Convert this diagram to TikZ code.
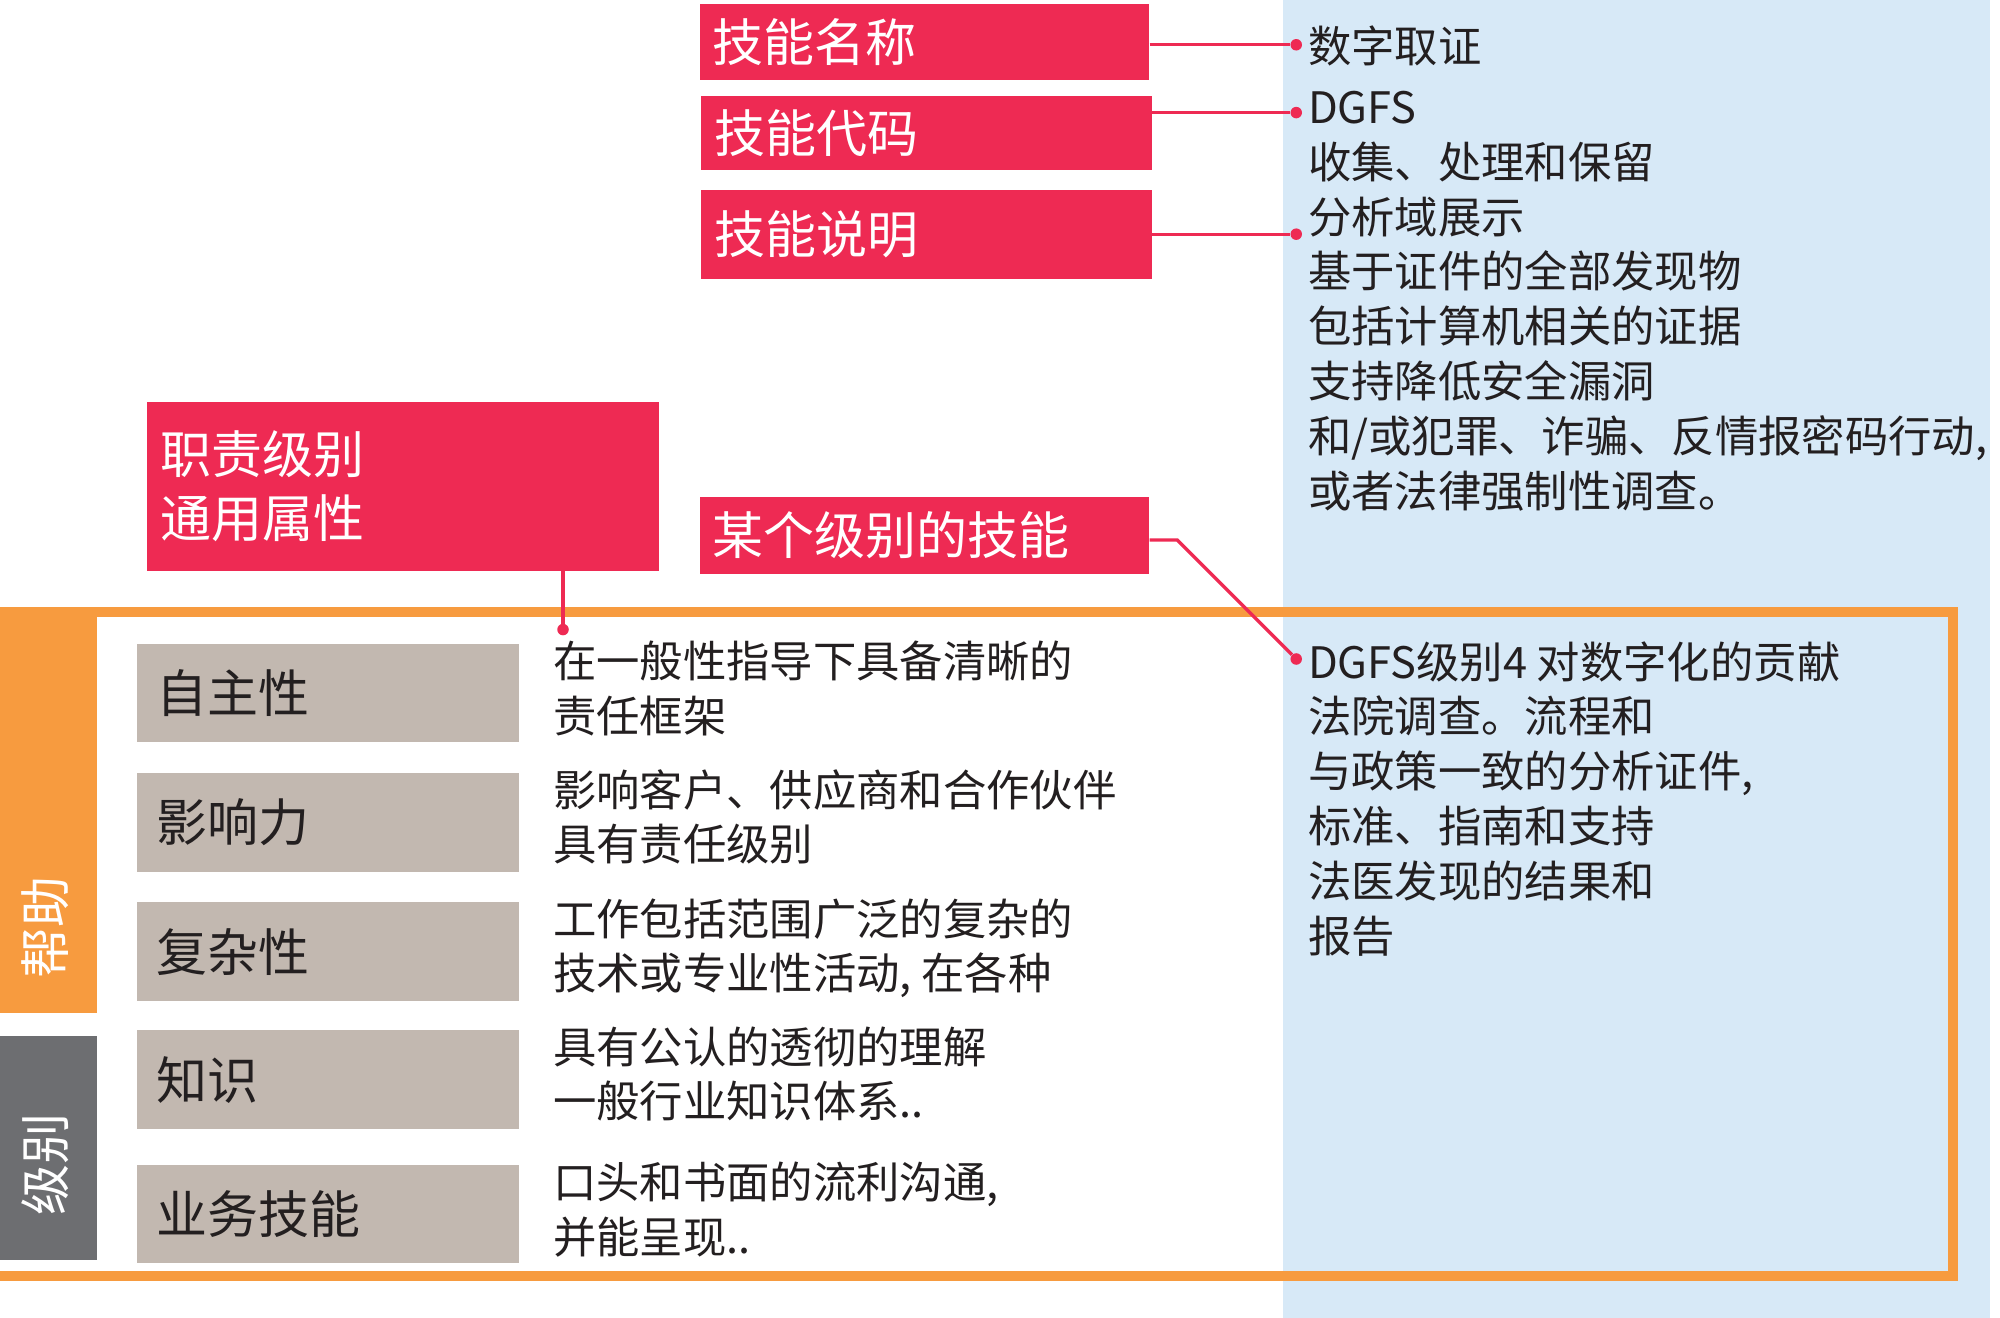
\documentclass[tikz,border=0pt]{standalone}
\usepackage{fontspec}
\setmainfont{Noto Sans CJK SC}
\definecolor{rd}{HTML}{EE2A53}
\definecolor{lb}{HTML}{D7E9F7}
\definecolor{og}{HTML}{F79B3F}
\definecolor{gb}{HTML}{C2B8B0}
\definecolor{dg}{HTML}{6D6E71}
\definecolor{tx}{HTML}{231F20}
\begin{document}
\begin{tikzpicture}[x=1bp,y=-1bp,
  redbox/.style={fill=rd,text=white,font=\fontsize{40}{50}\selectfont,inner sep=0,anchor=north west},
  graybox/.style={fill=gb,text=tx,font=\fontsize{40}{50}\selectfont,inner sep=0,minimum width=298bp,minimum height=77bp,anchor=north west,text width=268bp,align=left},
  body/.style={text=tx,font=\fontsize{34}{43}\selectfont,inner sep=0,anchor=north west,align=left},
  dotc/.style={circle,fill=rd,inner sep=0,minimum size=9bp},
  conn/.style={rd,line width=2.5bp}]
\useasboundingbox (0,0) rectangle (1563,1030);
\fill[lb] (1003,0) rectangle (1555,1030);
\fill[white] (76,484) rectangle (1003,995);
\draw[og,line width=8bp] (0,478) -- (1526,478) -- (1526,997) -- (0,997);
\fill[og] (0,474) rectangle (76,792);
\fill[dg] (0,810) rectangle (76,985);
\node[rotate=90,text=white,font=\fontsize{40}{50}\selectfont] (bz) at (35,725) {帮助};
\node[rotate=90,text=white,font=\fontsize{40}{50}\selectfont] (jb) at (35,910) {级别};
% red boxes
\node[redbox,minimum width=351bp,minimum height=59bp,text width=331bp,align=left] (n1) at (547,3) {技能名称};
\node[redbox,minimum width=352bp,minimum height=58bp,text width=332bp,align=left] (n2) at (548,75) {技能代码};
\node[redbox,minimum width=352bp,minimum height=70bp,text width=332bp,align=left] (n3) at (548,148) {技能说明};
\node[redbox,minimum width=351bp,minimum height=60bp,text width=331bp,align=left] (n4) at (547,388) {某个级别的技能};
\node[redbox,minimum width=400bp,minimum height=132bp,text width=380bp,align=left,font=\fontsize{40}{52}\selectfont] (n5) at (115,314) {职责级别\\[-2pt]通用属性};
% right texts
\node[dotc] (d1) at (1013,35) {};
\node[dotc] (d2) at (1013,88) {};
\node[dotc] (d3) at (1013,183) {};
\node[dotc] (d4) at (1013,515) {};
\node[dotc] (d5) at (440,492) {};
\node[body] (t1) at (1022,20) {数字取证};
\node[body] (t2) at (1022,71) {DGFS\\收集、处理和保留\\分析域展示\\基于证件的全部发现物\\包括计算机相关的证据\\支持降低安全漏洞\\和/或犯罪、诈骗、反情报密码行动,\\或者法律强制性调查。};
\node[body] (t3) at (1022,501) {DGFS级别4 对数字化的贡献\\法院调查。流程和\\与政策一致的分析证件,\\标准、指南和支持\\法医发现的结果和\\报告};
\draw[conn] (n1.east|-d1) -- (d1);
\draw[conn] (n2.east|-d2) -- (d2);
\draw[conn] (n3.east|-d3) -- (d3);
\coordinate (k) at (920,422);
\draw[conn] (n4.east|-k) -- (k) -- (d4);
\draw[conn] (n5.south-|d5) -- (d5);
% gray boxes
\node[graybox] (g1) at (107,503) {自主性};
\node[graybox] (g2) at (107,604) {影响力};
\node[graybox] (g3) at (107,705) {复杂性};
\node[graybox] (g4) at (107,805) {知识};
\node[graybox] (g5) at (107,910) {业务技能};
\node[body] (b1) at (432,501) {在一般性指导下具备清晰的\\责任框架};
\node[body] (b2) at (432,601) {影响客户、供应商和合作伙伴\\具有责任级别};
\node[body] (b3) at (432,702) {工作包括范围广泛的复杂的\\技术或专业性活动, 在各种};
\node[body] (b4) at (432,802) {具有公认的透彻的理解\\一般行业知识体系..};
\node[body] (b5) at (432,908) {口头和书面的流利沟通,\\并能呈现..};
\end{tikzpicture}
\end{document}
